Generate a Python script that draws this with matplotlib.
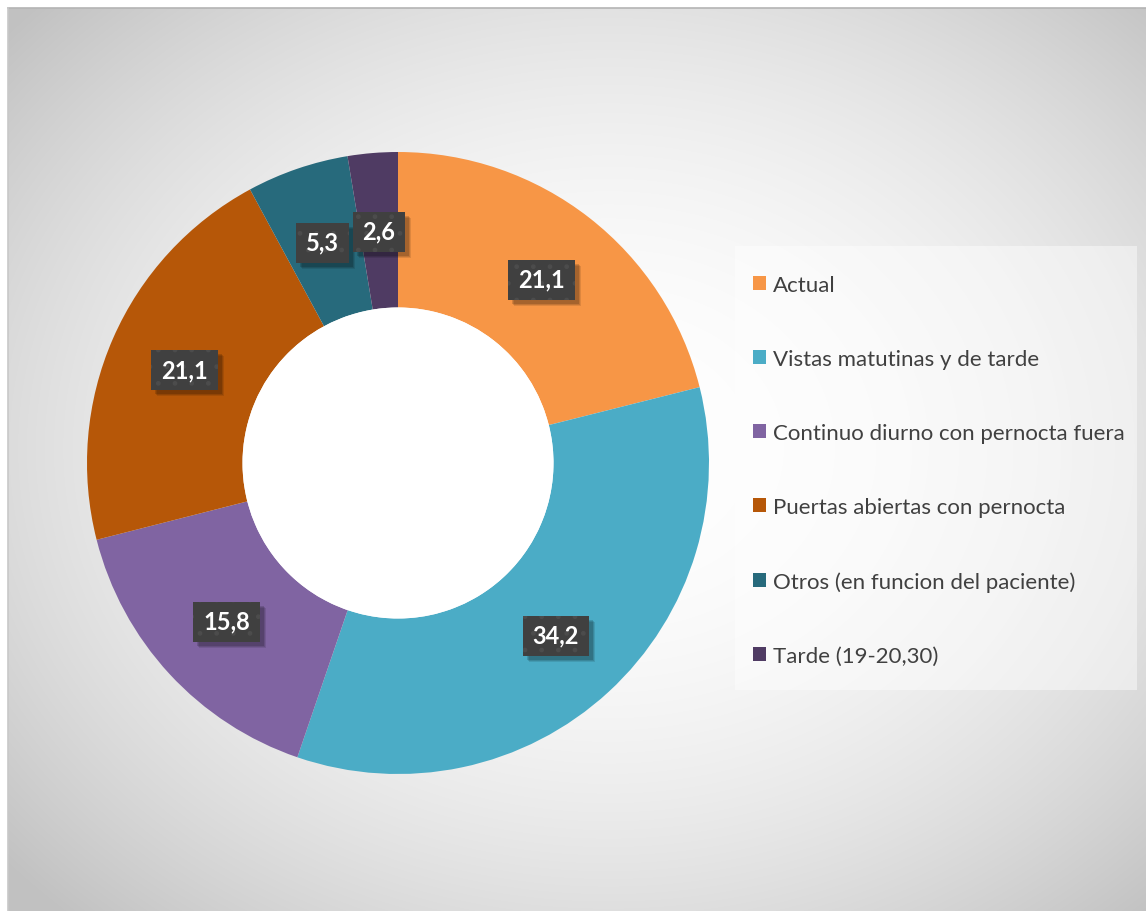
import numpy as np
import matplotlib.pyplot as plt
from matplotlib.patches import Rectangle, Circle

plt.rcParams['font.family'] = ['Lato', 'DejaVu Sans']

labels = ["Actual", "Vistas matutinas y de tarde", "Continuo diurno con pernocta fuera",
          "Puertas abiertas con pernocta", "Otros (en funcion del paciente)", "Tarde (19-20,30)"]
values = [21.1, 34.2, 15.8, 21.1, 5.3, 2.6]
value_text = ["21,1", "34,2", "15,8", "21,1", "5,3", "2,6"]
colors = ["#F79646", "#4BACC6", "#8064A2", "#B65708", "#276A7C", "#4F3B63"]

W, H = 1146, 912
fig = plt.figure(figsize=(W / 100, H / 100), dpi=100, facecolor="white")

# grey path gradient behind the chart area
bg = fig.add_axes([8 / W, 0, 1 - 8 / W, 1 - 9 / H])
yy, xx = np.mgrid[0:H - 9, 0:W - 8]
d = np.hypot((xx - 600) / 560, (yy - 440) / 450) / np.sqrt(2)
shade = 1.0 - 0.24 * np.clip(d, 0, 1) ** 2
bg.imshow(np.dstack([shade] * 3), aspect="auto", interpolation="bilinear")
bg.set_axis_off()
fig.lines.append(plt.Line2D([8 / W, 1], [1 - 9 / H] * 2, transform=fig.transFigure,
                            color="#b4b4b4", lw=1.2))
fig.lines.append(plt.Line2D([8 / W] * 2, [0, 1 - 9 / H], transform=fig.transFigure,
                            color="#c8c8c8", lw=1.2))

# legend panel
fig.patches.append(Rectangle((735 / W, 1 - 691 / H), 402 / W, 444 / H,
                             transform=fig.transFigure, facecolor="white",
                             alpha=0.45, edgecolor="none", zorder=1))

cx, cy, r = 398, 464, 311
ax = fig.add_axes([(cx - r) / W, (H - cy - r) / H, 2 * r / W, 2 * r / H])
wedges, _ = ax.pie(values, colors=colors, startangle=90, counterclock=False, radius=1,
                   wedgeprops=dict(width=0.5, edgecolor="none"))
ax.add_patch(Circle((0, 0), 0.5, facecolor="white", edgecolor="none"))
ax.set_xlim(-1, 1)
ax.set_ylim(-1, 1)
ax.set_aspect("equal")
ax.set_axis_off()

texts = []
for w, txt in zip(wedges, value_text):
    ang = np.deg2rad((w.theta1 + w.theta2) / 2)
    t = ax.text(0.75 * np.cos(ang), 0.75 * np.sin(ang), txt, ha="center", va="center",
                color="white", fontsize=17, fontweight="bold", zorder=5)
    texts.append(t)

# dark label boxes with a soft drop shadow, sized from the text extents
fig.canvas.draw()
for t in texts:
    bb = t.get_window_extent()
    bw, bh = bb.width + 20, 40
    x0, y0 = bb.x0 + bb.width / 2 - bw / 2, bb.y0 + bb.height / 2 - bh / 2 - 1
    for k, a in [(6, 0.10), (5, 0.12), (4, 0.15)]:
        fig.patches.append(Rectangle(((x0 + k) / W, (y0 - k) / H), bw / W, bh / H,
                                     transform=fig.transFigure, facecolor="black",
                                     alpha=a, edgecolor="none", zorder=3))
    fig.patches.append(Rectangle((x0 / W, y0 / H), bw / W, bh / H,
                                 transform=fig.transFigure, facecolor="#404040",
                                 edgecolor="#4c4c4c", hatch=".", linewidth=0, zorder=3))
    t.remove()
    fig.texts.append(t)
    t.set_figure(fig)
    t.set_zorder(10)

fig.legend(wedges, labels, loc="upper left", bbox_to_anchor=(733 / W, 1 - 256 / H),
           frameon=False, fontsize=16, labelcolor="#404040",
           handlelength=0.6, handleheight=0.6, handletextpad=0.3,
           labelspacing=2.43)

fig.savefig("out.png", dpi=100, facecolor="white")
